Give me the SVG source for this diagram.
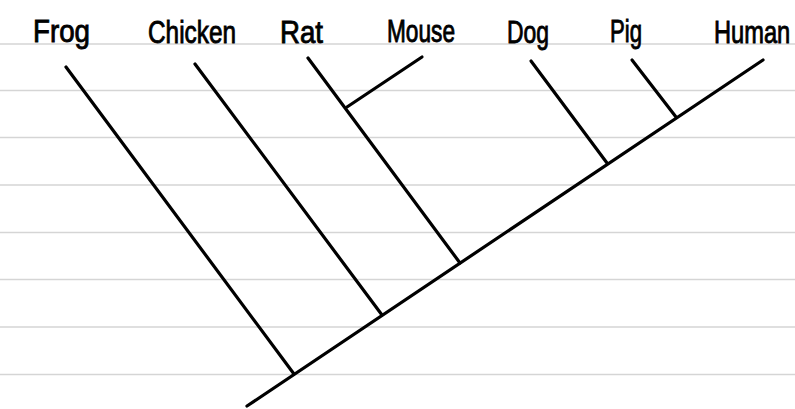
<svg xmlns="http://www.w3.org/2000/svg" width="795" height="409" viewBox="0 0 795 409">
<style>
.rule{stroke:#d5d5d5;stroke-width:1.6}
.br{stroke:#000;stroke-width:3.2;stroke-linecap:round;fill:none}
.lbl{font-family:"Liberation Sans","DejaVu Sans",sans-serif;font-size:32px;fill:#000;stroke:#000;stroke-width:0.9}
</style>
<rect width="795" height="409" fill="#fff"/>
<g id="paper">
<line class="rule" x1="0" y1="44" x2="795" y2="44"/>
<line class="rule" x1="0" y1="90.5" x2="795" y2="90.5"/>
<line class="rule" x1="0" y1="137.5" x2="795" y2="137.5"/>
<line class="rule" x1="0" y1="185" x2="795" y2="185"/>
<line class="rule" x1="0" y1="232.5" x2="795" y2="232.5"/>
<line class="rule" x1="0" y1="279.5" x2="795" y2="279.5"/>
<line class="rule" x1="0" y1="327" x2="795" y2="327"/>
<line class="rule" x1="0" y1="374.5" x2="795" y2="374.5"/>
</g>
<g id="connectors">
<line class="br" x1="247" y1="406" x2="763" y2="60"/>
<line class="br" x1="66" y1="67" x2="294" y2="374"/>
<line class="br" x1="195" y1="64" x2="382" y2="315"/>
<line class="br" x1="308" y1="58" x2="460" y2="263"/>
<line class="br" x1="422" y1="57" x2="347" y2="107"/>
<line class="br" x1="531" y1="61" x2="607" y2="163"/>
<line class="br" x1="632" y1="60" x2="676" y2="117"/>
</g>
<g id="node-frog"><text class="lbl" x="33" y="42" font-size="38" textLength="57" lengthAdjust="spacingAndGlyphs">Frog</text></g>
<g id="node-chicken"><text class="lbl" x="148" y="43" textLength="88" lengthAdjust="spacingAndGlyphs">Chicken</text></g>
<g id="node-rat"><text class="lbl" x="280" y="43" textLength="43" lengthAdjust="spacingAndGlyphs">Rat</text></g>
<g id="node-mouse"><text class="lbl" x="387" y="42" textLength="68" lengthAdjust="spacingAndGlyphs">Mouse</text></g>
<g id="node-dog"><text class="lbl" x="507" y="43" textLength="42" lengthAdjust="spacingAndGlyphs">Dog</text></g>
<g id="node-pig"><text class="lbl" x="610" y="42" textLength="32" lengthAdjust="spacingAndGlyphs">Pig</text></g>
<g id="node-human"><text class="lbl" transform="translate(714,43) scale(0.74,1)" x="0" y="0">Human</text></g>
</svg>
